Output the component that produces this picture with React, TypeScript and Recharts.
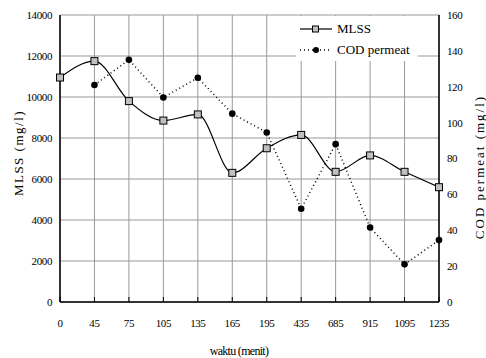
import React from 'react';
import { LineChart, Line, XAxis, YAxis, CartesianGrid, Label } from 'recharts';

const waktu = ['0', '45', '75', '105', '135', '165', '195', '435', '685', '915', '1095', '1235'];
const mlss = [10950, 11750, 9800, 8850, 9150, 6300, 7500, 8150, 6350, 7150, 6350, 5600];
const codPermeat = [null, 121, 135, 114, 125, 105, 94.5, 52, 88, 41.5, 21, 34.5];

const mlssTicks = [0, 2000, 4000, 6000, 8000, 10000, 12000, 14000];
const codTicks = [0, 20, 40, 60, 80, 100, 120, 140, 160];

const seriesNames = ['MLSS', 'COD permeat'];

const data = waktu.map((w, i) => ({ waktu: w, mlss: mlss[i], cod: codPermeat[i] }));

const FONT = 'Liberation Serif, Times New Roman, serif';
const tickStyle = { fontFamily: FONT, fontSize: 11, fill: '#000', letterSpacing: -0.4 };

const SquareDot = (props: any) => {
  const { cx, cy } = props;
  if (cx == null || cy == null) return null;
  return <rect x={cx - 3.5} y={cy - 3.5} width={7} height={7} fill="#c0c0c0" stroke="#000" strokeWidth={1} />;
};

const RoundDot = (props: any) => {
  const { cx, cy, value } = props;
  if (cx == null || cy == null || value == null) return null;
  return <circle cx={cx} cy={cy} r={3.3} fill="#000" />;
};

const Legendish = () => (
  <div
    style={{
      position: 'absolute',
      left: 296,
      top: 16,
      width: 122,
      height: 45,
      background: '#fff',
      fontFamily: FONT,
      fontSize: 13,
      color: '#000',
    }}
  >
    {seriesNames.map((name, i) => (
      <div key={name} style={{ position: 'absolute', left: 0, top: 5 + i * 21, height: 16, display: 'flex', alignItems: 'center' }}>
        <svg width={40} height={16} style={{ display: 'block' }}>
          {i === 0 ? (
            <>
              <line x1={4} y1={8} x2={36} y2={8} stroke="#000" strokeWidth={1.2} />
              <rect x={16.5} y={5} width={6} height={6} fill="#c0c0c0" stroke="#000" />
            </>
          ) : (
            <>
              <line x1={4} y1={8} x2={36} y2={8} stroke="#000" strokeWidth={1.5} strokeDasharray="1 3" />
              <circle cx={20} cy={8} r={3} fill="#000" />
            </>
          )}
        </svg>
        <span style={{ marginLeft: 1, whiteSpace: 'nowrap' }}>{name}</span>
      </div>
    ))}
  </div>
);

const App: React.FC = () => {
  return (
    <div style={{ position: 'absolute', left: 0, top: 0, width: 486, height: 358, background: '#fff', fontFamily: FONT }}>
      <LineChart width={486} height={358} data={data} margin={{ top: 15, right: 0, bottom: 0, left: 0 }} style={{ fontFamily: FONT }}>
        <CartesianGrid stroke="#999" strokeWidth={1} yAxisId="left" />
        <XAxis
          dataKey="waktu"
          height={56}
          tick={tickStyle}
          tickSize={5}
          tickMargin={12}
          tickLine={{ stroke: '#000', transform: 'translate(0,-5)' }}
          axisLine={{ stroke: '#000', strokeWidth: 1.5 }}
          interval={0}
        >
          <Label
            content={() => (
              <text x={239} y={355} textAnchor="middle" fontFamily={FONT} fontSize={12} letterSpacing={-0.7} fill="#000">
                waktu (menit)
              </text>
            )}
          />
        </XAxis>
        <XAxis xAxisId="top" dataKey="waktu" orientation="top" height={0} tick={false} tickLine={false} axisLine={{ stroke: '#000', strokeWidth: 1.5 }} />
        <YAxis
          yAxisId="left"
          width={60}
          domain={[0, 14000]}
          ticks={mlssTicks}
          tick={tickStyle}
          tickSize={0}
          tickMargin={8}
          axisLine={{ stroke: '#000', strokeWidth: 1.5 }}
        >
          <Label
            content={() => (
              <text
                x={18}
                y={153}
                transform="rotate(-90, 18, 153)"
                textAnchor="middle"
                dominantBaseline="central"
                fontFamily={FONT}
                fontSize={13}
                letterSpacing={1.5}
                fill="#000"
              >
                MLSS (mg/l)
              </text>
            )}
          />
        </YAxis>
        <YAxis
          yAxisId="right"
          orientation="right"
          width={47}
          domain={[0, 160]}
          ticks={codTicks}
          tick={tickStyle}
          tickSize={0}
          tickMargin={8}
          axisLine={{ stroke: '#000', strokeWidth: 1.5 }}
        >
          <Label
            content={() => (
              <text
                x={479}
                y={167}
                transform="rotate(-90, 479, 167)"
                textAnchor="middle"
                dominantBaseline="central"
                fontFamily={FONT}
                fontSize={13}
                letterSpacing={2}
                fill="#000"
              >
                COD permeat (mg/l)
              </text>
            )}
          />
        </YAxis>
        <Line
          yAxisId="left"
          dataKey="mlss"
          name="MLSS"
          type="monotone"
          stroke="#000"
          strokeWidth={1.2}
          dot={<SquareDot />}
          isAnimationActive={false}
        />
        <Line
          yAxisId="right"
          dataKey="cod"
          name="COD permeat"
          type="linear"
          stroke="#000"
          strokeWidth={1.5}
          strokeDasharray="1 3"
          dot={<RoundDot />}
          isAnimationActive={false}
        />
      </LineChart>
      <Legendish />
    </div>
  );
};

export default App;
